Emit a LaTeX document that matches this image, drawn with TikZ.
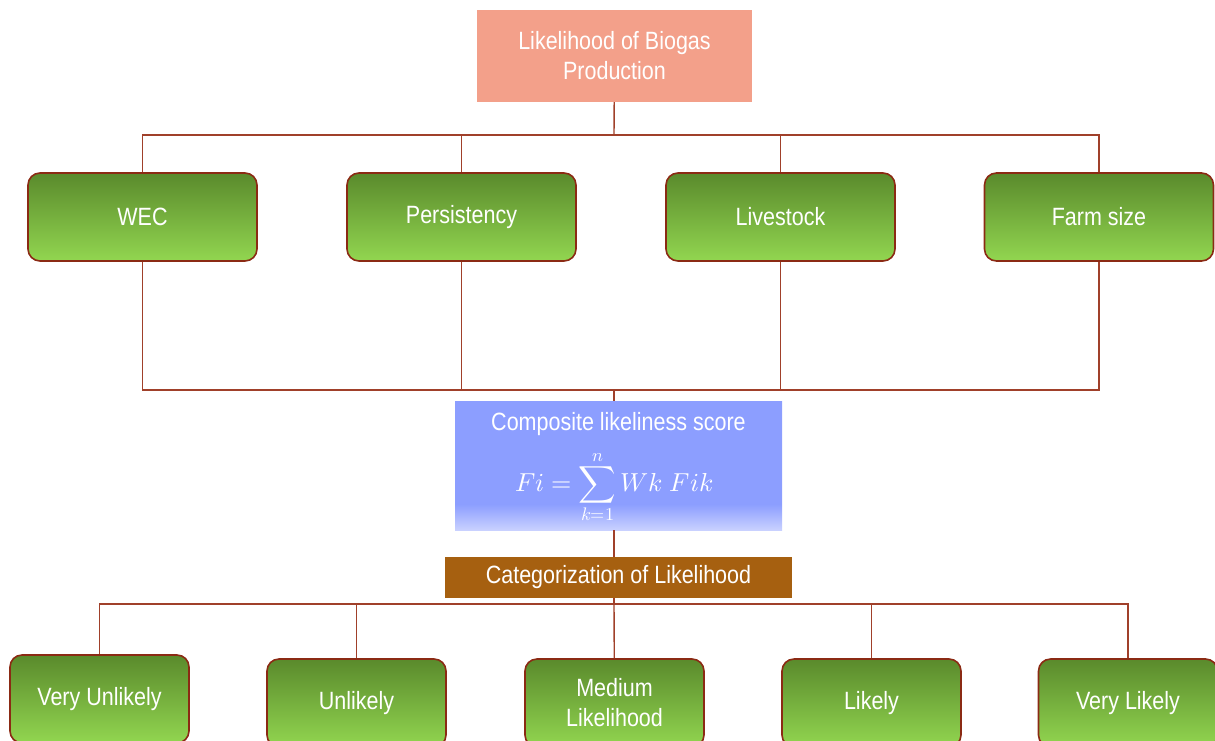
\documentclass[tikz,border=0pt]{standalone}
\usepackage{fontspec}
\setmainfont{Liberation Sans}[FakeStretch=0.86]
\usepackage{unicode-math}
\setmathfont{Latin Modern Math}
\definecolor{salmon}{HTML}{F3A08A}
\definecolor{leafdark}{HTML}{5A8A2C}
\definecolor{leaflight}{HTML}{92D650}
\definecolor{boxrim}{HTML}{8B2A14}
\definecolor{wirered}{HTML}{A0402A}
\definecolor{periwinkle}{HTML}{8C9EFF}
\definecolor{periwinklelight}{HTML}{C9D1FF}
\definecolor{rust}{HTML}{A66010}
\pgfdeclareverticalshading{compshade}{100bp}{color(0bp)=(periwinklelight); color(25bp)=(periwinklelight); color(35bp)=(periwinkle); color(100bp)=(periwinkle)}
\begin{document}
\begin{tikzpicture}[x=1pt, y=-1pt,
    lbl/.style={text=white, font=\fontsize{25}{30}\selectfont, align=center},
    leafbox/.style={draw=boxrim, line width=1.6pt, rounded corners=12pt, top color=leafdark, bottom color=leaflight, minimum width=229pt, minimum height=88pt, inner sep=0pt, lbl},
    smallleaf/.style={leafbox, minimum width=179pt},
    wire/.style={draw=wirered, line width=1.4pt}]

        \useasboundingbox (0,0) rectangle (1215,740);

        % Nodes
        \node[fill=salmon, minimum width=275pt, minimum height=92pt, inner sep=0pt, lbl] at (614.5, 56) (goal) {Likelihood of Biogas\\Production};

        \node[leafbox] at (142.5, 217) (wec)     {WEC};
        \node[leafbox] at (461.5, 217) (persist) {Persistency};
        \node[leafbox] at (780.5, 217) (stock)   {Livestock};
        \node[leafbox] at (1099, 217)  (farm)    {Farm size};

        \node[shading=compshade, minimum width=327pt, minimum height=129pt, inner sep=0pt] at (618.5, 465.5) (comp) {};
        \node[lbl, inner sep=0pt] at (618.5, 424) (comptitle) {Composite likeliness score};
        \node[text=white, font=\fontsize{26}{30}\selectfont, inner sep=0pt] at (614, 487) (formula) {$\displaystyle Fi=\sum_{k=1}^{n} Wk\;Fik$};

        \node[fill=rust, minimum width=347pt, minimum height=41pt, inner sep=0pt, lbl] at (618.5, 577.5) (cat) {Categorization of Likelihood};

        \node[smallleaf] at (99.5, 699)  (vunl) {Very Unlikely};
        \node[smallleaf] at (356.5, 703) (unl)  {Unlikely};
        \node[smallleaf] at (614.5, 703) (med)  {Medium\\Likelihood};
        \node[smallleaf] at (871.5, 703) (lik)  {Likely};
        \node[smallleaf] at (1128, 703)  (vlik) {Very Likely};

        \coordinate (bus1) at (614, 135);
        \coordinate (bus2) at (614, 390);
        \coordinate (bus3) at (614, 604);

        \draw[wire]  (goal) -- (bus1);
        \draw[wire]  (bus1) -| (wec);
        \draw[wire]  (bus1) -| (persist);
        \draw[wire]  (bus1) -| (stock);
        \draw[wire]  (bus1) -| (farm);

        \draw[wire]  (wec) |- (bus2);
        \draw[wire]  (persist) |- (bus2);
        \draw[wire]  (stock) |- (bus2);
        \draw[wire]  (farm) |- (bus2);
        \draw[wire]  (bus2) -- (bus2 |- comp.north);

        \draw[wire]  (comp.south -| bus2) -- (cat.north -| bus2);
        \draw[wire]  (cat.south -| bus3) -- (bus3);

        \draw[wire]  (bus3) -| (vunl);
        \draw[wire]  (bus3) -| (unl);
        \draw[wire]  (bus3) -- (med);
        \draw[wire]  (bus3) -| (lik);
        \draw[wire]  (bus3) -| (vlik);
    \end{tikzpicture}
\end{document}
